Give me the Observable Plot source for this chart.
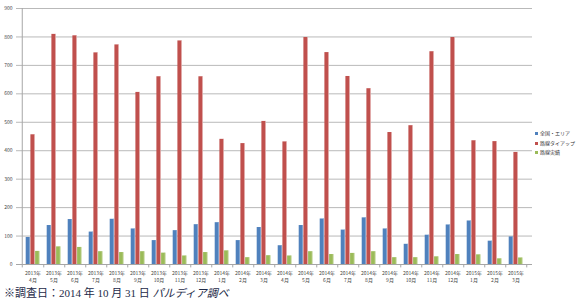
<!DOCTYPE html>
<html><head><meta charset="utf-8">
<script src="https://cdn.jsdelivr.net/npm/d3@7"></script>
<script src="https://cdn.jsdelivr.net/npm/@observablehq/plot@0.6"></script>
<style>
body{margin:0;background:#fff;}
#wrap{position:relative;width:576px;height:300px;overflow:hidden;}
#legend{position:absolute;left:535px;top:128px;font-family:"Noto Sans CJK JP",sans-serif;font-size:5px;color:#333;line-height:9.5px;}
#legend span.sw{display:inline-block;width:3px;height:3px;margin-right:2px;vertical-align:middle;}
#caption{position:absolute;left:4px;top:284px;font-family:"Liberation Serif","Noto Sans CJK JP",serif;font-size:11px;color:#1d2a48;white-space:nowrap;}
#caption i{font-style:italic;}
</style>
</head><body>
<div id="wrap"><div id="chart"></div><div id="legend"></div><div id="caption">※調査日：2014 年 10 月 31 日 <i>パルディア調べ</i></div></div>
<script>
const months = ["2013年\n4月","2013年\n5月","2013年\n6月","2013年\n7月","2013年\n8月","2013年\n9月","2013年\n10月","2013年\n11月","2013年\n12月",
"2014年\n1月","2014年\n2月","2014年\n3月","2014年\n4月","2014年\n5月","2014年\n6月","2014年\n7月","2014年\n8月","2014年\n9月","2014年\n10月","2014年\n11月","2014年\n12月",
"2015年\n1月","2015年\n2月","2015年\n3月"];
const seriesNames = ["全国・エリア","路線タイアップ","路線実績"];
const zenkoku = [95,137,158,114,159,125,84,119,140,147,84,130,66,137,160,121,164,125,71,103,139,153,82,97];
const tieup   = [456,809,804,744,772,605,660,786,660,440,425,503,431,798,745,661,618,464,488,748,798,435,432,394];
const jisseki = [46,62,60,45,42,45,40,30,42,48,24,31,30,45,35,39,45,24,24,27,35,34,20,23];
const yTicks = [0,100,200,300,400,500,600,700,800,900];

const colors = ["#4F81BD","#C0504D","#9BBB59"];
const lights = ["#95B3D7","#E6B9B8","#C3D69B"];
const seriesVals = [zenkoku, tieup, jisseki];

const bw = 516/24;
const barW = 4.7;
const inset = (bw - barW)/2;
const offsets = [-barW, 0, barW];

const barMarks = [];
seriesVals.forEach((vals, s) => {
  const data = months.map((m,i)=>({m, v: vals[i]}));
  barMarks.push(Plot.barY(data, {x:"m", y:"v", fill: colors[s], insetLeft: inset, insetRight: inset, dx: offsets[s]}));
  barMarks.push(Plot.barY(data, {x:"m", y:"v", fill: lights[s], insetLeft: inset + barW - 1.1, insetRight: inset, dx: offsets[s]}));
});

const chart = Plot.plot({
  width: 576, height: 284,
  marginLeft: 16, marginRight: 44, marginTop: 8, marginBottom: 20,
  style: {fontFamily: '"Noto Sans CJK JP", sans-serif', fontSize: "5px", color:"#333"},
  x: {domain: months, padding: 0, axis: null},
  y: {domain: [0, 900], axis: null},
  marks: [
    Plot.gridY(yTicks.slice(1), {stroke: "#b9b9b9", strokeOpacity: 1, strokeWidth: 1}),
    ...barMarks,
    Plot.ruleY([0], {stroke: "#a6a6a6"}),
    Plot.ruleX([months[0]], {y1: -12, y2: 900, dx: -bw/2, stroke: "#a6a6a6"}),
    Plot.ruleX(months, {y1: -12, y2: 0, dx: bw/2, stroke: "#a6a6a6"}),
    Plot.axisY({ticks: yTicks, tickSize: 0, tickPadding: 4, fontSize: 5, fill:"#444", label: null}),
    Plot.axisX({tickSize: 0, tickPadding: 5, fontSize: 5, fill:"#444", label: null, lineHeight: 1.5})
  ]
});
document.getElementById("chart").appendChild(chart);

const lg = document.getElementById("legend");
seriesNames.forEach((n,i)=>{
  const d = document.createElement("div");
  d.innerHTML = `<span class="sw" style="background:${colors[i]}"></span>${n}`;
  lg.appendChild(d);
});
</script>
</body></html>
